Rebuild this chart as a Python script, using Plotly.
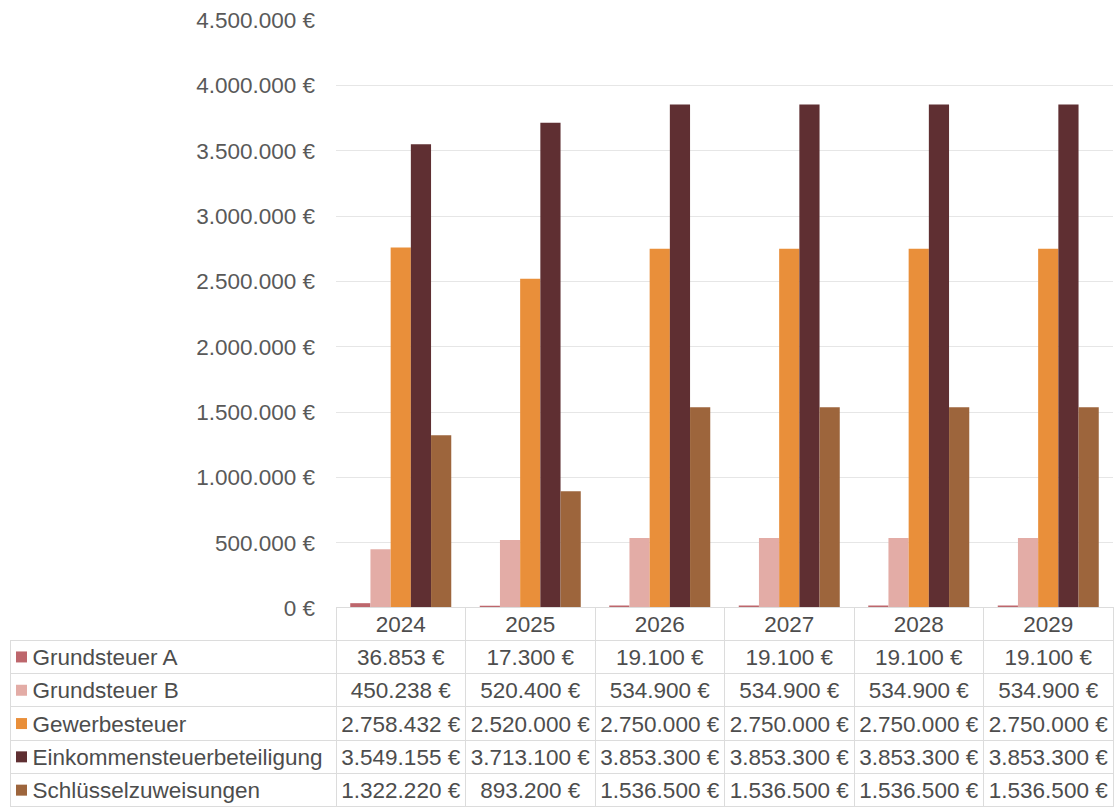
import plotly.graph_objects as go

# Jahre und Ertragsarten
years = ["2024", "2025", "2026", "2027", "2028", "2029"]
series_names = [
    "Grundsteuer A",
    "Grundsteuer B",
    "Gewerbesteuer",
    "Einkommensteuerbeteiligung",
    "Schlüsselzuweisungen",
]

grundsteuer_a = [36853, 17300, 19100, 19100, 19100, 19100]
grundsteuer_b = [450238, 520400, 534900, 534900, 534900, 534900]
gewerbesteuer = [2758432, 2520000, 2750000, 2750000, 2750000, 2750000]
einkommensteuer = [3549155, 3713100, 3853300, 3853300, 3853300, 3853300]
schluesselzuweisungen = [1322220, 893200, 1536500, 1536500, 1536500, 1536500]

series_values = [grundsteuer_a, grundsteuer_b, gewerbesteuer, einkommensteuer, schluesselzuweisungen]
colors = ["#bd666c", "#e3aca6", "#e98f3a", "#5f2f32", "#9d653c"]

y_ticks = [0, 500000, 1000000, 1500000, 2000000, 2500000, 3000000, 3500000, 4000000, 4500000]

FONT = "Liberation Sans, Arial, sans-serif"
FS = 22.5
W, H = 1115, 807
NBSP = "\u00a0"
TEXT = "#4d4d4d"

# Geometrie der Datentabelle (Pixel)
TABLE_LEFT, TABLE_RIGHT, TABLE_TOP = 10, 1113, 607
ROW_H = 33.3


def euro(v, sep=" "):
    return f"{v:,}".replace(",", ".") + sep + "€"


fig = go.Figure()

for name, vals, col in zip(series_names, series_values, colors):
    fig.add_trace(go.Bar(
        x=years, y=vals, name=name, marker=dict(color=col, line=dict(width=0)),
        xaxis="x", yaxis="y", showlegend=False,
    ))

# Datentabelle unter dem Diagramm; geschützte Leerzeichen verhindern den
# automatischen Zeilenumbruch in den schmalen Spalten
grid = "#dcdcdc"
label_cells = [NBSP * 2 + "\u200a" + n for n in series_names]
value_columns = [[euro(vals[i], NBSP) for vals in series_values] for i in range(len(years))]

fig.add_trace(go.Table(
    domain=dict(x=[TABLE_LEFT / W, TABLE_RIGHT / W], y=[0, 1 - TABLE_TOP / H]),
    columnwidth=[326] + [129.5] * len(years),
    header=dict(
        values=[""] + years,
        height=ROW_H,
        align="center",
        fill=dict(color=["rgba(0,0,0,0)"] + ["white"] * len(years)),
        line=dict(color=["rgba(0,0,0,0)"] + [grid] * len(years), width=1),
        font=dict(family=FONT, size=FS, color=TEXT),
    ),
    cells=dict(
        values=[label_cells] + value_columns,
        height=ROW_H,
        align=["left"] + ["center"] * len(years),
        fill=dict(color="white"),
        line=dict(color=grid, width=1),
        font=dict(family=FONT, size=FS, color=TEXT),
    ),
))

# Farbige Legendenquadrate vor den Zeilenbeschriftungen
for k, col in enumerate(colors):
    yc = TABLE_TOP + ROW_H * (k + 1.5)
    fig.add_shape(
        type="rect", xref="paper", yref="paper",
        x0=16 / W, x1=27 / W, y0=1 - (yc + 5.5) / H, y1=1 - (yc - 5.5) / H,
        fillcolor=col, line=dict(width=0), layer="above",
    )

fig.update_layout(
    width=W, height=H,
    margin=dict(l=0, r=0, t=0, b=0),
    paper_bgcolor="white", plot_bgcolor="white",
    barmode="group", bargap=0.22, bargroupgap=0,
    font=dict(family=FONT, size=FS, color="#595959"),
    xaxis=dict(
        domain=[336 / W, 1113 / W],
        showticklabels=False, showgrid=False, zeroline=False, showline=False,
        ticks="", automargin=False,
    ),
    yaxis=dict(
        domain=[1 - 608 / H, 1 - 20 / H],
        range=[0, 4500000],
        tickmode="array",
        tickvals=y_ticks,
        ticktext=[euro(v) for v in y_ticks],
        showgrid=True, gridcolor="#e6e6e6", gridwidth=1,
        zeroline=False, showline=False, ticks="",
        ticklabelstandoff=20, automargin=False,
        tickfont=dict(family=FONT, size=FS, color="#595959"),
    ),
)

fig.write_html("out.html")
